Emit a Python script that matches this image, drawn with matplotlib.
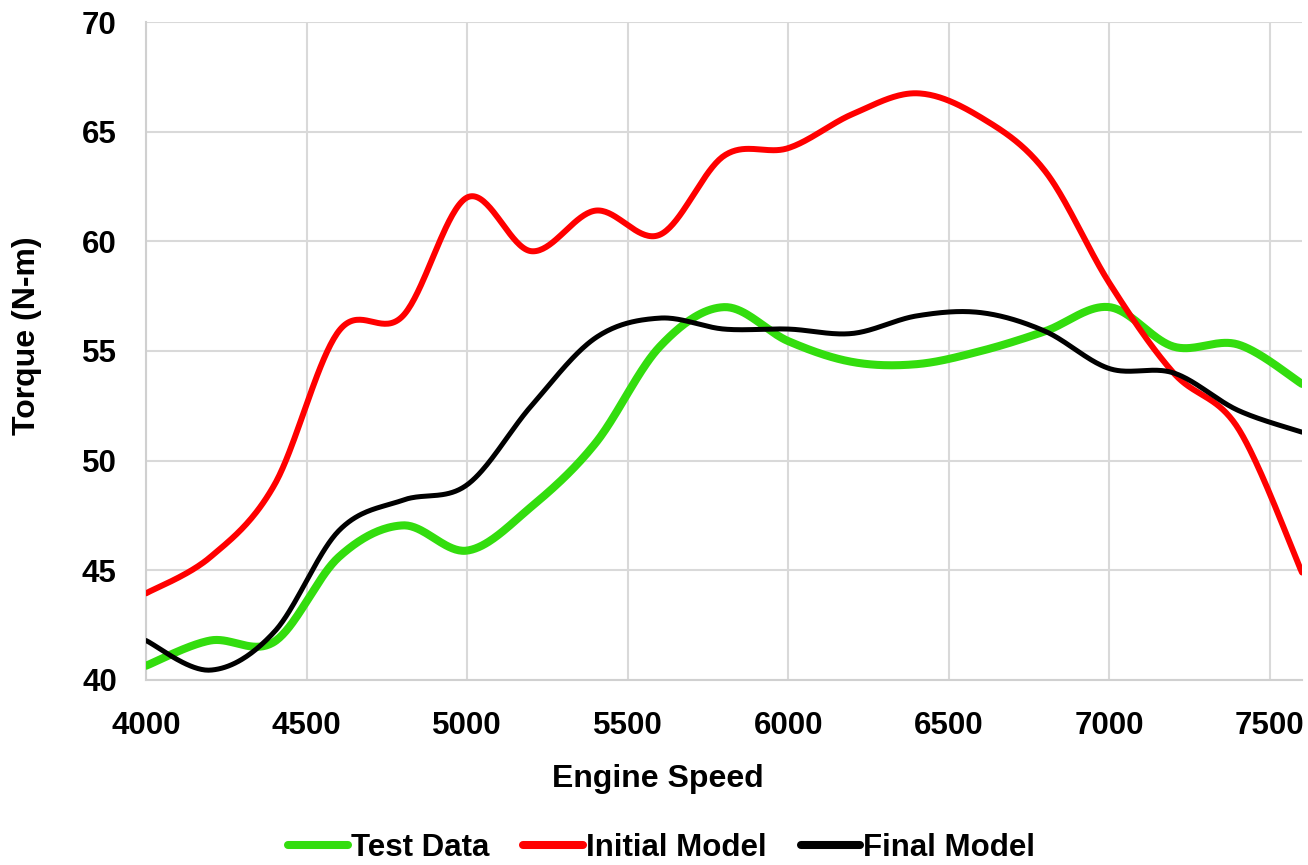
import numpy as np
import matplotlib
matplotlib.use("Agg")
import matplotlib.pyplot as plt

# Engine speed (rpm) sample points
engine_speed = [4000, 4200, 4400, 4600, 4800, 5000, 5200, 5400, 5600, 5800,
                6000, 6200, 6400, 6600, 6800, 7000, 7200, 7400, 7600]

# Torque (N-m)
test_data = [40.65, 41.8, 41.75, 45.6, 47.05, 45.9, 47.9, 50.8, 55.2, 57.0,
             55.45, 54.5, 54.4, 55.0, 55.9, 57.0, 55.2, 55.3, 53.5]
initial_model = [43.95, 45.6, 48.9, 55.9, 56.6, 62.0, 59.55, 61.4, 60.3, 63.9,
                 64.25, 65.8, 66.75, 65.65, 63.2, 58.1, 54.0, 51.5, 44.9]
final_model = [41.8, 40.45, 42.2, 46.8, 48.2, 48.9, 52.5, 55.6, 56.5, 56.0,
               56.0, 55.8, 56.6, 56.75, 55.9, 54.2, 54.0, 52.3, 51.3]

series_names = ["Test Data", "Initial Model", "Final Model"]
series_colors = ["#33dd0e", "#ff0000", "#000000"]
series_widths = [5.8, 4.3, 3.6]

x_ticks = [4000, 4500, 5000, 5500, 6000, 6500, 7000, 7500]
y_ticks = [40, 45, 50, 55, 60, 65, 70]


def smooth(xs, ys, steps=40):
    """Smoothed line through the points (Catmull-Rom style cubic Bezier)."""
    p = np.column_stack([xs, ys]).astype(float)
    n = len(p)
    out = [p[0]]
    t = np.linspace(0, 1, steps)[1:, None]
    for i in range(n - 1):
        p0 = p[i - 1] if i > 0 else p[i]
        p1, p2 = p[i], p[i + 1]
        p3 = p[i + 2] if i + 2 < n else p[i + 1]
        c1 = p1 + (p2 - p0) / 6.0
        c2 = p2 - (p3 - p1) / 6.0
        seg = ((1 - t) ** 3) * p1 + 3 * ((1 - t) ** 2) * t * c1 \
            + 3 * (1 - t) * t ** 2 * c2 + t ** 3 * p2
        out.extend(seg)
    out = np.array(out)
    return out[:, 0], out[:, 1]


font = ["Liberation Sans", "DejaVu Sans"]
plt.rcParams["font.family"] = font
plt.rcParams["font.weight"] = "bold"

fig = plt.figure(figsize=(13.08, 8.65), dpi=100)
ax = fig.add_axes([146 / 1308, 185 / 865, 1156 / 1308, 658 / 865])

for ys, name, col, lw in zip([test_data, initial_model, final_model],
                             series_names, series_colors, series_widths):
    sx, sy = smooth(engine_speed, ys)
    ax.plot(sx, sy, color=col, lw=lw, label=name,
            solid_capstyle="round", solid_joinstyle="round", zorder=3)

ax.set_xlim(4000, 7600)
ax.set_ylim(40, 70)
ax.set_xticks(x_ticks)
ax.set_yticks(y_ticks)
ax.grid(True, color="#d9d9d9", lw=1.5)
ax.set_axisbelow(True)
for side in ["top", "right"]:
    ax.spines[side].set_visible(False)
for side in ["left", "bottom"]:
    ax.spines[side].set_color("#d0d0d0")
    ax.spines[side].set_linewidth(1.5)
ax.tick_params(length=0, labelsize=22.5)
ax.tick_params(axis="x", pad=22)
ax.tick_params(axis="y", pad=21)
for lab in ax.get_xticklabels() + ax.get_yticklabels():
    lab.set_fontweight("bold")

fig.text(0.503, (865 - 779) / 865, "Engine Speed", ha="center", va="center",
         fontsize=23, fontweight="bold")
fig.text(27 / 1308, (865 - 336) / 865, "Torque (N-m)", ha="center",
         va="center", rotation=90, fontsize=23, fontweight="bold")

leg = fig.legend(loc="center", bbox_to_anchor=(0.506, (865 - 848) / 865),
                 ncol=3, frameon=False, fontsize=22.5, handlelength=1.9,
                 handletextpad=0.1, columnspacing=1.1)
for line in leg.get_lines():
    line.set_linewidth(5.8)
    line.set_solid_capstyle("round")

fig.savefig("out.png", dpi=100)
